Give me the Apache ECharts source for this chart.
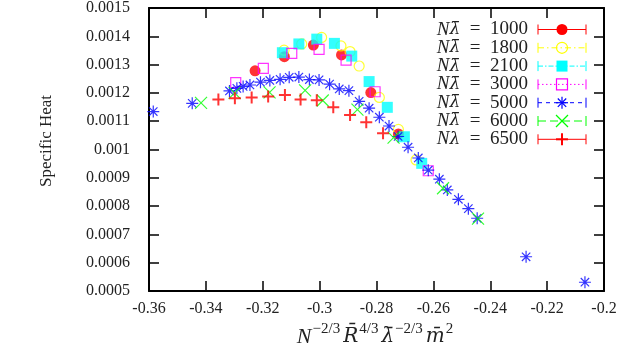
<!DOCTYPE html>
<html>
<head>
<meta charset="utf-8">
<script src="https://cdn.jsdelivr.net/npm/echarts@6/dist/echarts.min.js"></script>
<style>
  html, body { margin: 0; background: #fff; }
  #main { width: 623px; height: 347px; }
</style>
</head>
<body>
<div id="main"></div>
<script>
// axis ranges / ticks
var xMin = -0.36, xMax = -0.2, xStep = 0.02
var yMin = 0.0005, yMax = 0.0015, yStep = 0.0001

// values: [x, specific heat]
var nl1000 = [[-0.3227, 0.001278], [-0.3124, 0.001328], [-0.3022, 0.001369], [-0.2923, 0.001334],
  [-0.2820, 0.001201], [-0.2723, 0.001055]]
var nl1800 = [[-0.3125, 0.001351], [-0.3063, 0.001373], [-0.2993, 0.001396], [-0.2925, 0.001366],
  [-0.2893, 0.001346], [-0.2861, 0.001295], [-0.2790, 0.001184], [-0.2723, 0.001071], [-0.2661, 0.000963]]
var nl2100 = [[-0.3131, 0.001342], [-0.3073, 0.001373], [-0.3010, 0.001390], [-0.2948, 0.001375],
  [-0.2887, 0.001330], [-0.2826, 0.001240], [-0.2762, 0.001149], [-0.2702, 0.001045], [-0.2641, 0.000951]]
var nl3000 = [[-0.3295, 0.001236], [-0.3198, 0.001287], [-0.3098, 0.001340], [-0.3002, 0.001354],
  [-0.2907, 0.001316], [-0.2805, 0.001204], [-0.2618, 0.000925]]
var nl5000 = [[-0.3585, 0.001134], [-0.3448, 0.001163], [-0.3317, 0.001207], [-0.3291, 0.001216],
  [-0.3269, 0.001223], [-0.3245, 0.001228], [-0.3208, 0.001238], [-0.3175, 0.001244], [-0.3139, 0.001248],
  [-0.3107, 0.001255], [-0.3073, 0.001256], [-0.3036, 0.001247], [-0.3002, 0.001246], [-0.2965, 0.001231],
  [-0.2931, 0.001214], [-0.2897, 0.001208], [-0.2861, 0.001170], [-0.2826, 0.001146], [-0.2790, 0.001114],
  [-0.2756, 0.001083], [-0.2724, 0.001046], [-0.2689, 0.001008], [-0.2653, 0.000970], [-0.2618, 0.000927],
  [-0.2579, 0.000895], [-0.2551, 0.000857], [-0.2512, 0.000824], [-0.2477, 0.000791], [-0.2446, 0.000757],
  [-0.2274, 0.000621], [-0.2067, 0.000531]]
var nl6000 = [[-0.3417, 0.001165], [-0.3299, 0.001200], [-0.3176, 0.001202], [-0.3051, 0.001209],
  [-0.2989, 0.001173], [-0.2867, 0.001141], [-0.2740, 0.001042], [-0.2566, 0.000863], [-0.2443, 0.000756]]
var nl6500 = [[-0.3356, 0.001177], [-0.3298, 0.001181], [-0.3239, 0.001184], [-0.3181, 0.001187],
  [-0.3122, 0.001193], [-0.3067, 0.001177], [-0.3010, 0.001174], [-0.2952, 0.001149], [-0.2893, 0.001122],
  [-0.2836, 0.001096], [-0.2777, 0.001057]]

var labels = ['1000', '1800', '2100', '3000', '5000', '6000', '6500']

var FONT = '"Liberation Serif", "DejaVu Serif", serif'
var BARFONT = '"DejaVu Serif", serif'
var STAR = 'path://M0 5L10 5M5 0L5 10M1.5 1.5L8.5 8.5M1.5 8.5L8.5 1.5'
var CROSS = 'path://M0 0L10 10M0 10L10 0'
var PLUS = 'path://M0 5L10 5M5 0L5 10'

var defs = [
  { data: nl1000, color: '#ff0000', symbol: 'circle', filled: true, dash: 'solid', bar: true },
  { data: nl1800, color: '#ffff00', symbol: 'circle', filled: false, dash: [6, 3, 1.5, 3], bar: true },
  { data: nl2100, color: '#00ffff', symbol: 'rect', filled: true, dash: [5, 2, 1.5, 2], bar: true },
  { data: nl3000, color: '#ff00ff', symbol: 'rect', filled: false, dash: [1.5, 2.5], bar: true },
  { data: nl5000, color: '#0000ff', symbol: STAR, filled: false, dash: [4, 4], bar: true },
  { data: nl6000, color: '#00ff00', symbol: CROSS, filled: false, dash: [8, 4], bar: true },
  { data: nl6500, color: '#ff0000', symbol: PLUS, filled: false, dash: 'solid', bar: false, width: 2 }
]

var series = defs.map(function (d, i) {
  var path = d.symbol.indexOf('path://') === 0
  return {
    type: 'scatter',
    name: labels[i],
    data: d.data,
    symbol: d.symbol,
    symbolSize: path ? 12 : (d.filled ? 11 : 10),
    itemStyle: {
      color: d.filled ? d.color : 'transparent',
      borderColor: d.color,
      borderWidth: d.filled ? 0 : (d.width || 1.2)
    },
    z: 2 + i,
    silent: true
  }
})

// legend drawn by hand (gnuplot style: errorbar sample line + marker)
function seg(x1, y1, x2, y2, color, w, dash) {
  return { type: 'line', shape: { x1: x1, y1: y1, x2: x2, y2: y2 },
    style: { stroke: color, lineWidth: w || 1, lineDash: dash || null }, z: 100 }
}
var graphic = []
var lx1 = 538, lx2 = 586, mx = 562
defs.forEach(function (d, i) {
  var y = 29.5 + i * 18.3
  var sym = d.bar ? '{i|N}{b|λ̄}' : '{i|N}{b|λ}'
  graphic.push({
    type: 'text', z: 100,
    style: { x: 528, y: y, text: sym + '\u2002=\u2002' + labels[i], align: 'right', verticalAlign: 'middle',
      fill: '#222', font: '19px ' + FONT,
      rich: {
        i: { fontStyle: 'italic', fontSize: 19, fontFamily: FONT, fill: '#222' },
        b: { fontStyle: 'italic', fontSize: 17, fontFamily: BARFONT, fill: '#222' }
      } }
  })
  graphic.push(seg(lx1, y, lx2, y, d.color, 1, d.dash === 'solid' ? null : d.dash))
  graphic.push(seg(lx1, y - 5, lx1, y + 5, d.color, 1))
  graphic.push(seg(lx2, y - 5, lx2, y + 5, d.color, 1))
  if (d.symbol === 'circle') {
    graphic.push({ type: 'circle', z: 101, shape: { cx: mx, cy: y, r: 5.5 },
      style: d.filled ? { fill: d.color } : { fill: 'none', stroke: d.color, lineWidth: 1.2 } })
  } else if (d.symbol === 'rect') {
    graphic.push({ type: 'rect', z: 101, shape: { x: mx - 5.5, y: y - 5.5, width: 11, height: 11 },
      style: d.filled ? { fill: d.color } : { fill: 'none', stroke: d.color, lineWidth: 1.2 } })
  } else {
    var r = 6, w = d.width || 1.2
    if (d.symbol !== CROSS) {
      graphic.push(seg(mx - r, y, mx + r, y, d.color, w))
      graphic.push(seg(mx, y - r, mx, y + r, d.color, w))
    }
    if (d.symbol !== PLUS) {
      var q = d.symbol === CROSS ? r : r * 0.7
      graphic.push(seg(mx - q, y - q, mx + q, y + q, d.color, w))
      graphic.push(seg(mx - q, y + q, mx + q, y - q, d.color, w))
    }
  }
})
graphic.push({
  type: 'text', z: 100, x: 47, y: 141, rotation: Math.PI / 2,
  style: { text: 'Specific Heat', align: 'center', verticalAlign: 'middle', fill: '#222', font: '17px ' + FONT }
})

function fmt(v) { return String(parseFloat(v.toFixed(6))) }

var axisLine = { show: true, lineStyle: { color: '#000', width: 2 } }
var tick = { show: true, inside: true, length: 10, lineStyle: { color: '#000', width: 1.5 } }
var labelStyle = { color: '#222', fontSize: 16, fontFamily: FONT }

var option = {
  animation: false,
  backgroundColor: '#fff',
  grid: { left: 149, right: 19, top: 8, bottom: 56, outerBoundsMode: 'none', containLabel: false },
  xAxis: [
    {
      type: 'value', min: xMin, max: xMax, interval: xStep,
      axisLine: axisLine, axisTick: tick, splitLine: { show: false },
      axisLabel: Object.assign({ margin: 10, formatter: fmt }, labelStyle),
      name: '{i|N}{s|−2/3}{b|R̄}{s|4/3}{b|λ̄}{s|−2/3}{b|m̄}{s|2}',
      nameLocation: 'middle', nameGap: 25,
      nameTextStyle: {
        rich: {
          i: { fontStyle: 'italic', fontSize: 22, fontFamily: FONT, color: '#222', lineHeight: 30, verticalAlign: 'middle' },
          b: { fontStyle: 'italic', fontSize: 20, fontFamily: BARFONT, color: '#222', lineHeight: 30, verticalAlign: 'middle' },
          s: { fontSize: 15, fontFamily: FONT, color: '#222', lineHeight: 14, verticalAlign: 'top', padding: [0, 3, 0, 1] }
        }
      }
    },
    {
      type: 'value', position: 'top', min: xMin, max: xMax, interval: xStep,
      axisLine: axisLine, axisTick: tick, axisLabel: { show: false }, splitLine: { show: false }
    }
  ],
  yAxis: [
    {
      type: 'value', min: yMin, max: yMax, interval: yStep,
      axisLine: axisLine, axisTick: tick, splitLine: { show: false },
      axisLabel: Object.assign({ margin: 19, formatter: fmt }, labelStyle)
    },
    {
      type: 'value', position: 'right', min: yMin, max: yMax, interval: yStep,
      axisLine: axisLine, axisTick: tick, axisLabel: { show: false }, splitLine: { show: false }
    }
  ],
  graphic: graphic,
  series: series
}

var chart = echarts.init(document.getElementById('main'))
chart.setOption(option)
window.addEventListener('resize', function () { chart.resize() })
</script>
</body>
</html>
